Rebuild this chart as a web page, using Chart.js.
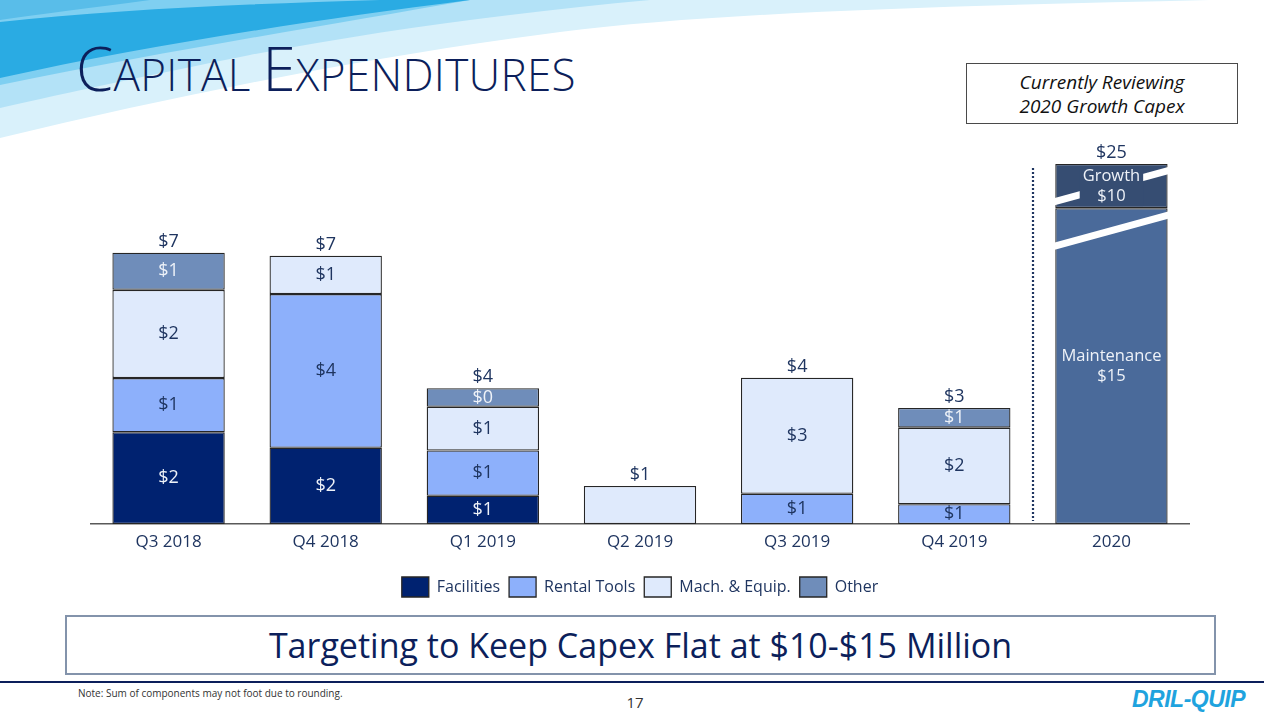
<!DOCTYPE html>
<html>
<head>
<meta charset="utf-8">
<script src="https://cdn.jsdelivr.net/npm/chart.js@4.4.1/dist/chart.umd.min.js"></script>
<style>
  html, body { margin: 0; padding: 0; }
  body {
    width: 1280px; height: 720px; position: relative; overflow: hidden;
    background: #fff; font-family: 'Open Sans', 'Noto Sans', sans-serif;
  }
  .waves { position: absolute; left: 0; top: 0; }
  #title {
    position: absolute; left: 76px; top: 30px;
    color: #0c1f5b; font-weight: 300; white-space: nowrap; line-height: 76px;
    font-size: 44px; letter-spacing: 0.3px;
  }
  #title .cap { font-size: 60px; }
  #review-box {
    position: absolute; left: 966px; top: 63px; width: 272px; height: 61px;
    border: 1.5px solid #4a4a4a; box-sizing: border-box;
    font-style: italic; font-size: 19px; line-height: 24px; color: #111;
    text-align: center; padding-top: 6px;
  }
  #chart-wrap { position: absolute; left: 90px; top: 130px; width: 1100px; height: 480px; }
  #banner {
    position: absolute; left: 65px; top: 615px; width: 1151px; height: 60px;
    border: 2px solid #8393ab; box-sizing: border-box;
    text-align: center; font-size: 34px; line-height: 56px; color: #0c1f5b;
  }
  #rule { position: absolute; left: 0; top: 681px; width: 1264px; height: 2px; background: #0c1f5b; }
  #note { position: absolute; left: 78px; top: 686px; font-size: 10px; color: #333; }
  #page { position: absolute; left: 620px; top: 692px; width: 30px; text-align: center; font-size: 15px; color: #333; }
  #logo {
    position: absolute; left: 1132px; top: 686px;
    font-family: 'Liberation Sans', sans-serif; font-weight: bold; font-style: italic;
    font-size: 23px; color: #1fa3de; letter-spacing: -0.5px;
  }
</style>
</head>
<body>
<svg class="waves" width="1280" height="150">
  <path d="M0,0 H1210 C950,6 720,12 560,32 C380,55 190,92 0,138 Z" fill="#d9f1fb"/>
  <path d="M0,0 H650 C520,12 380,30 250,55 C150,75 70,92 0,108 Z" fill="#b3e2f7"/>
  <path d="M0,0 H470 C330,25 170,50 0,85 Z" fill="#7fcff1"/>
  <path d="M0,22 C110,10 240,4 380,0 H470 C300,22 150,45 0,78 Z" fill="#2aabe3"/>
  <path d="M0,0 H150 C90,8 40,14 0,20 Z" fill="#59bde9"/>
</svg>

<div id="title"><span class="cap">C</span>APITAL <span class="cap">E</span>XPENDITURES</div>
<div id="review-box">Currently Reviewing<br>2020 Growth Capex</div>

<div id="chart-wrap"><canvas id="capex"></canvas></div>

<div id="banner">Targeting to Keep Capex Flat at $10-$15 Million</div>
<div id="rule"></div>
<div id="note">Note: Sum of components may not foot due to rounding.</div>
<div id="page">17</div>
<div id="logo">DRIL-QUIP</div>

<script>
  // $ millions
  const quarters    = ['Q3 2018', 'Q4 2018', 'Q1 2019', 'Q2 2019', 'Q3 2019', 'Q4 2019', '2020'];
  const facilities  = [2.37, 1.97, 0.73, null, null, null, null];
  const rentalTools = [1.40, 3.97, 1.17, null, 0.78, 0.51, null];
  const machEquip   = [2.28, 0.99, 1.13, 0.98, 3.00, 1.98, null];
  const other       = [0.96, null, 0.48, null, null, 0.51, null];
  const maintenance = [null, null, null, null, null, null, 15];
  const growth      = [null, null, null, null, null, null, 10];

  // broken value axis: [data value, plotted value]
  const axisBreaks = [[0, 0], [7.5, 7.5], [15, 8.16], [25, 9.30]];

  const INK = '#1f3560';
  const LIGHT = '#eef2f8';

  Chart.defaults.font.family = "'Open Sans', sans-serif";

  function squash(v) {
    for (let i = 1; i < axisBreaks.length; i++) {
      const [a0, b0] = axisBreaks[i - 1], [a1, b1] = axisBreaks[i];
      if (v <= a1 || i === axisBreaks.length - 1) return b0 + (v - a0) * (b1 - b0) / (a1 - a0);
    }
    return v;
  }
  function unsquash(p) {
    for (let i = 1; i < axisBreaks.length; i++) {
      const [a0, b0] = axisBreaks[i - 1], [a1, b1] = axisBreaks[i];
      if (p <= b1 || i === axisBreaks.length - 1) return a0 + (p - b0) * (a1 - a0) / (b1 - b0);
    }
    return p;
  }

  class BrokenScale extends Chart.LinearScale {
    static id = 'broken';
    static defaults = {};
    getPixelForValue(v) {
      if (v == null) return NaN;
      return super.getPixelForValue(squash(v));
    }
    getValueForPixel(px) { return unsquash(super.getValueForPixel(px)); }
  }
  Chart.register(BrokenScale);

  // labels, totals, break marks and the 2020 divider
  const capexLabels = {
    id: 'capexLabels',
    afterDatasetsDraw(chart, args, opts) {
      const { ctx, data } = chart;
      const n = data.labels.length;
      const metas = data.datasets.map((d, i) => chart.getDatasetMeta(i));
      ctx.save();

      // dotted divider before the forecast year
      const xs = chart.scales.x;
      const divX = Math.round((xs.getPixelForValue(n - 2) + xs.getPixelForValue(n - 1)) / 2);
      let lastTop = Infinity;
      metas.forEach(m => { const el = m.data[n - 1]; if (el && !isNaN(el.y)) lastTop = Math.min(lastTop, el.y); });
      ctx.strokeStyle = INK; ctx.lineWidth = 2.2; ctx.setLineDash([2, 2]);
      ctx.beginPath(); ctx.moveTo(divX, lastTop + 4); ctx.lineTo(divX, chart.chartArea.bottom - 3); ctx.stroke();
      ctx.setLineDash([]);

      // axis break marks
      data.datasets.forEach((ds, i) => {
        const f = opts.breaks[ds.label];
        if (f == null) return;
        metas[i].data.forEach((el, j) => {
          if (ds.data[j] == null) return;
          const yc = el.y + (el.base - el.y) * f;
          const half = el.width / 2 + 6;
          ctx.strokeStyle = '#fff'; ctx.lineWidth = 7;
          ctx.beginPath(); ctx.moveTo(el.x - half, yc + 17); ctx.lineTo(el.x + half, yc - 17); ctx.stroke();
        });
      });

      ctx.textAlign = 'center';
      ctx.textBaseline = 'middle';

      for (let j = 0; j < n; j++) {
        const segs = data.datasets.map((ds, i) => ({ ds, el: metas[i].data[j], v: ds.data[j] })).filter(s => s.v != null);
        if (!segs.length) continue;
        // inside labels
        if (segs.length > 1) {
          segs.forEach(s => {
            const cy = (s.el.y + s.el.base) / 2;
            if (s.ds.named) {
              ctx.font = "16.5px 'Open Sans', sans-serif";
              const lines = [s.ds.label, '$' + Math.round(s.v)];
              if ((opts.breaks[s.ds.label] || 0) >= 0.3) {
                const w = Math.max(...lines.map(t => ctx.measureText(t).width)) + 6;
                ctx.fillStyle = s.ds.backgroundColor;
                ctx.fillRect(s.el.x - w / 2, cy - 20, w, 40);
              }
              ctx.fillStyle = s.ds.textColor;
              ctx.fillText(lines[0], s.el.x, cy - 10);
              ctx.fillText(lines[1], s.el.x, cy + 10);
            } else {
              ctx.font = "18px 'Open Sans', sans-serif";
              ctx.fillStyle = s.ds.textColor;
              ctx.fillText('$' + Math.round(s.v), s.el.x, cy);
            }
          });
        }
        // stack total
        const total = segs.reduce((a, s) => a + s.v, 0);
        const top = Math.min(...segs.map(s => s.el.y));
        ctx.font = "18px 'Open Sans', sans-serif";
        ctx.fillStyle = INK;
        ctx.textBaseline = 'bottom';
        ctx.fillText('$' + Math.round(total), segs[0].el.x, top - 2);
        ctx.textBaseline = 'middle';
      }
      ctx.restore();
    }
  };

  const bar = { borderColor: '#262626', borderWidth: 1.3, borderSkipped: false, barPercentage: 0.715, categoryPercentage: 1 };

  new Chart(document.getElementById('capex'), {
    type: 'bar',
    data: {
      labels: quarters,
      datasets: [
        { label: 'Facilities',     data: facilities,  backgroundColor: '#002270', textColor: LIGHT, ...bar },
        { label: 'Rental Tools',   data: rentalTools, backgroundColor: '#8db0fb', textColor: INK,   ...bar },
        { label: 'Mach. & Equip.', data: machEquip,   backgroundColor: '#dfeafc', textColor: INK,   ...bar },
        { label: 'Other',          data: other,       backgroundColor: '#6f8dba', textColor: LIGHT, ...bar },
        { label: 'Maintenance',    data: maintenance, backgroundColor: '#4a6a9a', textColor: LIGHT, named: true, ...bar },
        { label: 'Growth',         data: growth,      backgroundColor: '#364d72', textColor: LIGHT, named: true, ...bar },
      ],
    },
    options: {
      responsive: true,
      maintainAspectRatio: false,
      animation: false,
      layout: { padding: { top: 20, left: 0, right: 0, bottom: 3 } },
      scales: {
        x: {
          stacked: true,
          grid: { display: false, drawTicks: false },
          border: { display: true, color: '#595959', width: 1.5 },
          ticks: { color: INK, font: { size: 17 }, padding: 8 },
          afterFit: s => { s.height = 44; },
        },
        y: { type: 'broken', stacked: true, display: false, min: 0, max: 9.663 },
      },
      plugins: {
        tooltip: { enabled: false },
        legend: {
          position: 'bottom',
          labels: {
            boxWidth: 27, boxHeight: 20, padding: 9, color: INK, font: { size: 16 },
            filter: item => !['Maintenance', 'Growth'].includes(item.text),
          },
        },
        capexLabels: { breaks: { Maintenance: 0.071, Growth: 0.5 } },
      },
    },
    plugins: [capexLabels],
  });
</script>
</body>
</html>
